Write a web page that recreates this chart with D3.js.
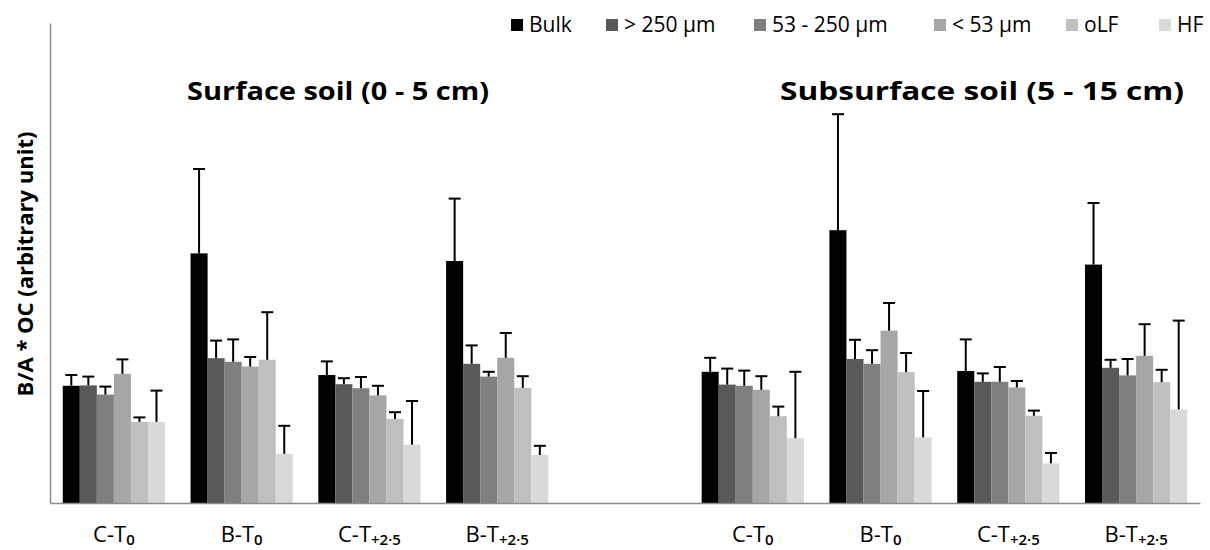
<!DOCTYPE html>
<html>
<head>
<meta charset="utf-8">
<script src="https://cdn.jsdelivr.net/npm/d3@7"></script>
<style>
  html, body { margin: 0; padding: 0; background: #fff; }
  svg { display: block; font-family: "Open Sans", "Noto Sans", sans-serif; }
</style>
</head>
<body>
<svg id="chart" width="1210" height="550"></svg>
<script>
// Treatments (surface layer, gap, subsurface layer)
const treatments = ["C-T", "B-T", "C-T", "B-T", "", "C-T", "B-T", "C-T", "B-T"];
const treatmentSubs = ["0", "0", "+2·5", "+2·5", "", "0", "0", "+2·5", "+2·5"];

// Fractions shown in each group
const seriesNames = ["Bulk", "> 250 µm", "53 - 250 µm", "< 53 µm", "oLF", "HF"];
const seriesColors = ["#000000", "#595959", "#7f7f7f", "#a6a6a6", "#bfbfbf", "#d9d9d9"];

// B/A * OC values (arbitrary unit), one entry per treatment slot (null = empty slot)
const bulk     = [2.93, 6.24, 3.20, 6.05, null, 3.28, 6.82, 3.30, 5.96];
const bulkErr  = [0.27, 2.11, 0.34, 1.56, null, 0.35, 2.90, 0.79, 1.54];
const gt250    = [2.94, 3.62, 2.97, 3.48, null, 2.96, 3.60, 3.03, 3.38];
const gt250Err = [0.22, 0.44, 0.15, 0.46, null, 0.40, 0.48, 0.21, 0.20];
const f53_250    = [2.71, 3.53, 2.87, 3.16, null, 2.93, 3.48, 3.03, 3.19];
const f53_250Err = [0.20, 0.56, 0.28, 0.12, null, 0.38, 0.34, 0.37, 0.41];
const lt53     = [3.23, 3.41, 2.69, 3.63, null, 2.83, 4.31, 2.89, 3.68];
const lt53Err  = [0.36, 0.24, 0.24, 0.62, null, 0.34, 0.69, 0.16, 0.79];
const oLF      = [2.03, 3.58, 2.10, 2.88, null, 2.17, 3.27, 2.18, 3.02];
const oLFErr   = [0.11, 1.19, 0.17, 0.29, null, 0.24, 0.48, 0.13, 0.31];
const HF       = [2.03, 1.23, 1.46, 1.20, null, 1.62, 1.64, 0.99, 2.34];
const HFErr    = [0.78, 0.70, 1.09, 0.23, null, 1.66, 1.16, 0.26, 2.22];

const seriesValues = [bulk, gt250, f53_250, lt53, oLF, HF];
const seriesErrors = [bulkErr, gt250Err, f53_250Err, lt53Err, oLFErr, HFErr];

const panelTitles = ["Surface soil (0 - 5 cm)", "Subsurface soil (5 - 15 cm)"];
const yTitle = "B/A * OC (arbitrary unit)";

const svg = d3.select("#chart");
const plot = { left: 50, right: 1200, top: 23, bottom: 503 };

const slots = treatments.map((_, i) => i);
const x = d3.scaleBand().domain(slots).range([plot.left, plot.right])
  .paddingInner(0.2).paddingOuter(0.1);
const xs = d3.scaleBand().domain(d3.range(seriesNames.length)).range([0, x.bandwidth()]);
const y = d3.scaleLinear().domain([0, 12]).range([plot.bottom, plot.top]);

// flatten into drawable records
const records = [];
slots.forEach(i => {
  seriesValues.forEach((vals, s) => {
    if (vals[i] == null) return;
    records.push({ slot: i, s, v: vals[i], e: seriesErrors[s][i] });
  });
});
const cx = d => x(d.slot) + xs(d.s) + xs.bandwidth() / 2;

// bars
svg.append("g").selectAll("rect").data(records).join("rect")
  .attr("x", d => x(d.slot) + xs(d.s))
  .attr("y", d => y(d.v))
  .attr("width", xs.bandwidth())
  .attr("height", d => y(0) - y(d.v))
  .attr("fill", d => seriesColors[d.s]);

// error bars (upper only)
const capW = 12;
const eb = svg.append("g").attr("stroke", "#000").attr("stroke-width", 2);
eb.selectAll("line.v").data(records).join("line").attr("class", "v")
  .attr("x1", cx).attr("x2", cx)
  .attr("y1", d => y(d.v))
  .attr("y2", d => y(d.v + d.e));
eb.selectAll("line.c").data(records).join("line").attr("class", "c")
  .attr("x1", d => cx(d) - capW / 2)
  .attr("x2", d => cx(d) + capW / 2)
  .attr("y1", d => y(d.v + d.e))
  .attr("y2", d => y(d.v + d.e));

// axes (lines only, no tick marks)
const xAxis = svg.append("g").attr("transform", `translate(0,${plot.bottom})`)
  .call(d3.axisBottom(x).tickSize(0).tickSizeOuter(0).tickFormat(() => ""));
xAxis.select(".domain").attr("stroke", "#8c8c8c").attr("stroke-width", 1.5);
xAxis.selectAll(".tick text").remove();

const yAxis = svg.append("g").attr("transform", `translate(${plot.left},0)`)
  .call(d3.axisLeft(y).tickValues([]).tickSizeOuter(0));
yAxis.select(".domain").attr("stroke", "#8c8c8c").attr("stroke-width", 1.5);

// category labels with subscripts
const lab = svg.append("g").selectAll("text").data(slots.filter(i => treatments[i] !== "")).join("text")
  .attr("x", i => x(i) + x.bandwidth() / 2)
  .attr("y", 542)
  .attr("text-anchor", "middle")
  .attr("font-size", 22)
  .attr("fill", "#000");
lab.append("tspan").text(i => treatments[i]);
lab.append("tspan").attr("font-size", 15).attr("font-weight", 600).attr("dy", 3).text(i => treatmentSubs[i]);

// panel titles
const titleX = [338, 982];
const titleW = [302, 404];
svg.append("g").selectAll("text").data(panelTitles).join("text")
  .attr("x", (d, i) => titleX[i] - titleW[i] / 2).attr("y", 100)
  .attr("font-size", 25).attr("font-weight", 700)
  .attr("textLength", (d, i) => titleW[i])
  .attr("lengthAdjust", "spacingAndGlyphs")
  .text(d => d);

// y-axis title
svg.append("text")
  .attr("transform", "translate(33,264) rotate(-90)")
  .attr("text-anchor", "middle")
  .attr("font-size", 22).attr("font-weight", 700)
  .text(yTitle);

// legend
const legendX = [511, 606, 754, 934, 1066, 1159];
const legend = svg.append("g").selectAll("g").data(seriesNames).join("g")
  .attr("transform", (d, i) => `translate(${legendX[i]},0)`);
legend.append("rect").attr("x", 0).attr("y", 19).attr("width", 12).attr("height", 12)
  .attr("fill", (d, i) => seriesColors[i]);
legend.append("text").attr("x", 18).attr("y", 32).attr("font-size", 21).text(d => d);
</script>
</body>
</html>
